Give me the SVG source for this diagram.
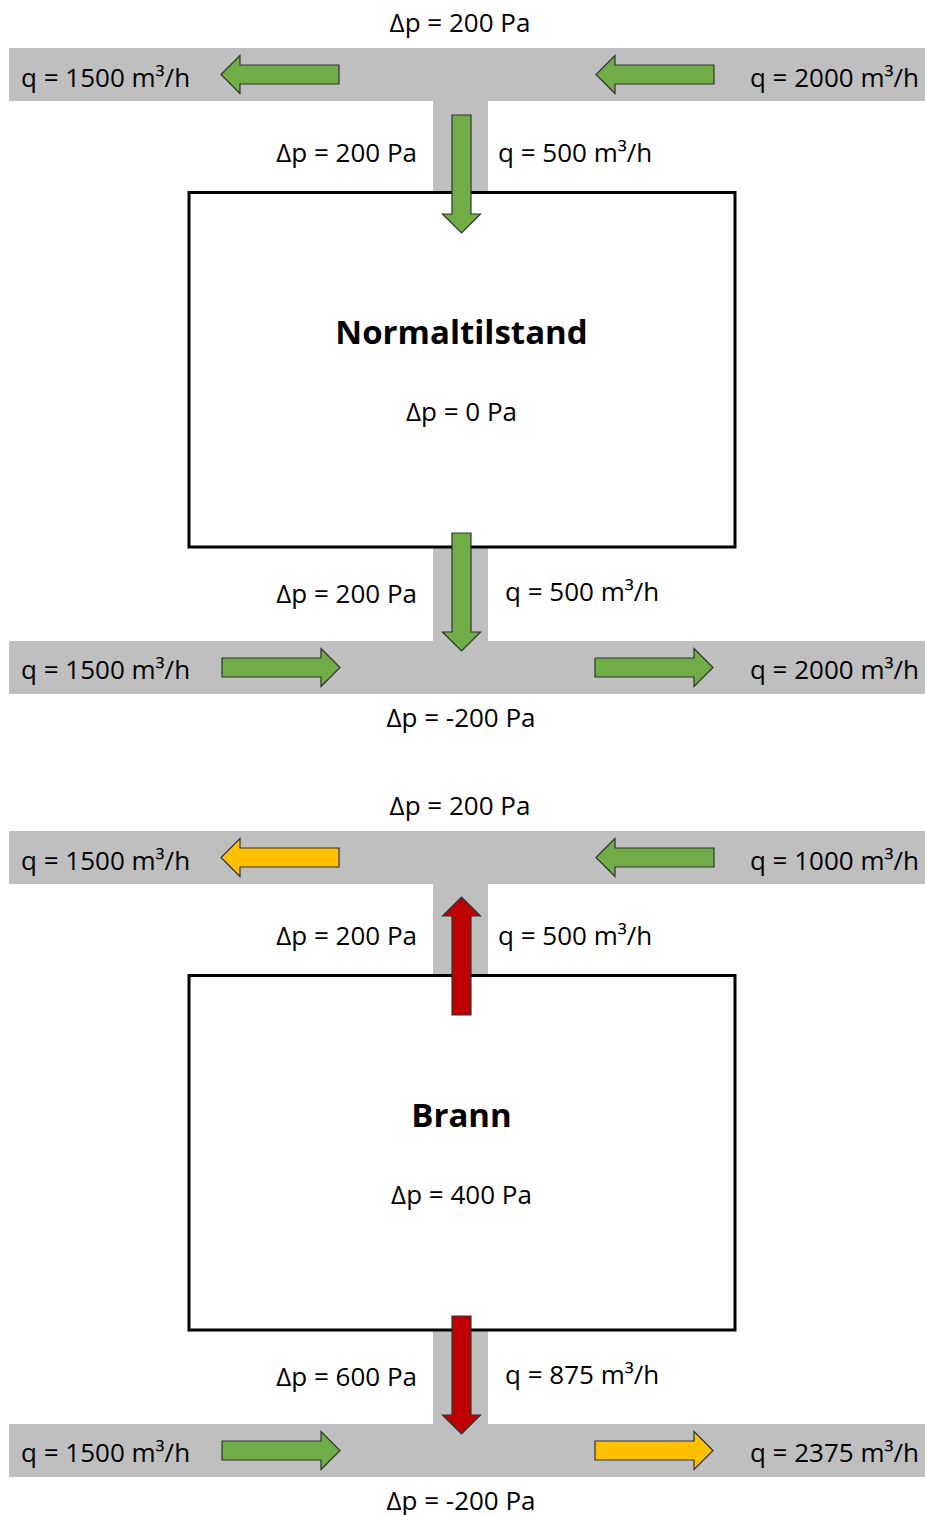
<svg xmlns="http://www.w3.org/2000/svg" width="925" height="1515" viewBox="0 0 925 1515">
  <style>
    .duct { fill: #bfbfbf; }
    .room { fill: #ffffff; stroke: #000000; stroke-width: 3; }
    .lbl { font-family: "Open Sans", "Liberation Sans", sans-serif; font-size: 26px; fill: #000000; }
    .title { font-family: "Open Sans", "Liberation Sans", sans-serif; font-size: 33px; font-weight: bold; fill: #000000; }
    .mid { text-anchor: middle; }
    .end { text-anchor: end; }
    .arrow { stroke: #333333; stroke-width: 1.2; stroke-linejoin: miter; }
    .green { fill: #70ad47; }
    .amber { fill: #ffc000; }
    .red { fill: #c00000; }
  </style>
  <defs>
    <!-- block arrow pointing right, tail at origin, 118 long -->
    <path id="blockArrow" d="M0,-9.5 H99 V-19 L118,0 L99,19 V9.5 H0 Z"/>
  </defs>

  <rect width="925" height="1515" fill="#ffffff"/>

  <!-- ===== Normal operation ===== -->
  <g id="normal-supply-duct">
    <rect class="duct" x="9" y="48" width="916" height="53"/>
    <rect class="duct" x="433" y="100" width="55" height="93"/>
  </g>
  <g id="normal-exhaust-duct">
    <rect class="duct" x="9" y="641" width="916" height="53"/>
    <rect class="duct" x="433" y="546" width="55" height="96"/>
  </g>
  <g id="normal-room">
    <rect class="room" x="189" y="192.5" width="546" height="354.5"/>
    <text class="title mid" x="461.5" y="344">Normaltilstand</text>
    <text class="lbl mid" x="461.5" y="421">Δp = 0 Pa</text>
  </g>
  <g id="normal-labels">
    <text class="lbl mid" x="460" y="32">Δp = 200 Pa</text>
    <text class="lbl" x="21" y="87">q = 1500 m³/h</text>
    <text class="lbl end" x="919" y="87">q = 2000 m³/h</text>
    <text class="lbl end" x="417" y="162">Δp = 200 Pa</text>
    <text class="lbl" x="498" y="162">q = 500 m³/h</text>
    <text class="lbl end" x="417" y="603">Δp = 200 Pa</text>
    <text class="lbl" x="505" y="601">q = 500 m³/h</text>
    <text class="lbl" x="21" y="679">q = 1500 m³/h</text>
    <text class="lbl end" x="919" y="679">q = 2000 m³/h</text>
    <text class="lbl mid" x="461" y="727">Δp = -200 Pa</text>
  </g>

  <!-- ===== Fire ===== -->
  <g id="fire-supply-duct">
    <rect class="duct" x="9" y="831" width="916" height="53"/>
    <rect class="duct" x="433" y="883" width="55" height="93"/>
  </g>
  <g id="fire-exhaust-duct">
    <rect class="duct" x="9" y="1424" width="916" height="53"/>
    <rect class="duct" x="433" y="1329" width="55" height="96"/>
  </g>
  <g id="fire-room">
    <rect class="room" x="189" y="975.5" width="546" height="354.5"/>
    <text class="title mid" x="461.5" y="1127">Brann</text>
    <text class="lbl mid" x="461.5" y="1204">Δp = 400 Pa</text>
  </g>
  <g id="fire-labels">
    <text class="lbl mid" x="460" y="815">Δp = 200 Pa</text>
    <text class="lbl" x="21" y="870">q = 1500 m³/h</text>
    <text class="lbl end" x="919" y="870">q = 1000 m³/h</text>
    <text class="lbl end" x="417" y="945">Δp = 200 Pa</text>
    <text class="lbl" x="498" y="945">q = 500 m³/h</text>
    <text class="lbl end" x="417" y="1386">Δp = 600 Pa</text>
    <text class="lbl" x="505" y="1384">q = 875 m³/h</text>
    <text class="lbl" x="21" y="1462">q = 1500 m³/h</text>
    <text class="lbl end" x="919" y="1462">q = 2375 m³/h</text>
    <text class="lbl mid" x="461" y="1510">Δp = -200 Pa</text>
  </g>

  <!-- flow arrows -->
  <g id="connectors">
    <!-- normal operation -->
    <use href="#blockArrow" class="arrow green" transform="translate(339,74.5) scale(-1,1)"/>
    <use href="#blockArrow" class="arrow green" transform="translate(714,74.5) scale(-1,1)"/>
    <use href="#blockArrow" class="arrow green" transform="translate(461.5,115) rotate(90)"/>
    <use href="#blockArrow" class="arrow green" transform="translate(461.5,533) rotate(90)"/>
    <use href="#blockArrow" class="arrow green" transform="translate(222,667.5)"/>
    <use href="#blockArrow" class="arrow green" transform="translate(595,667.5)"/>
    <!-- fire -->
    <use href="#blockArrow" class="arrow amber" transform="translate(339,857.5) scale(-1,1)"/>
    <use href="#blockArrow" class="arrow green" transform="translate(714,857.5) scale(-1,1)"/>
    <use href="#blockArrow" class="arrow red" transform="translate(461.5,1015) rotate(-90)"/>
    <use href="#blockArrow" class="arrow red" transform="translate(461.5,1316) rotate(90)"/>
    <use href="#blockArrow" class="arrow green" transform="translate(222,1450.5)"/>
    <use href="#blockArrow" class="arrow amber" transform="translate(595,1450.5)"/>
  </g>
</svg>
